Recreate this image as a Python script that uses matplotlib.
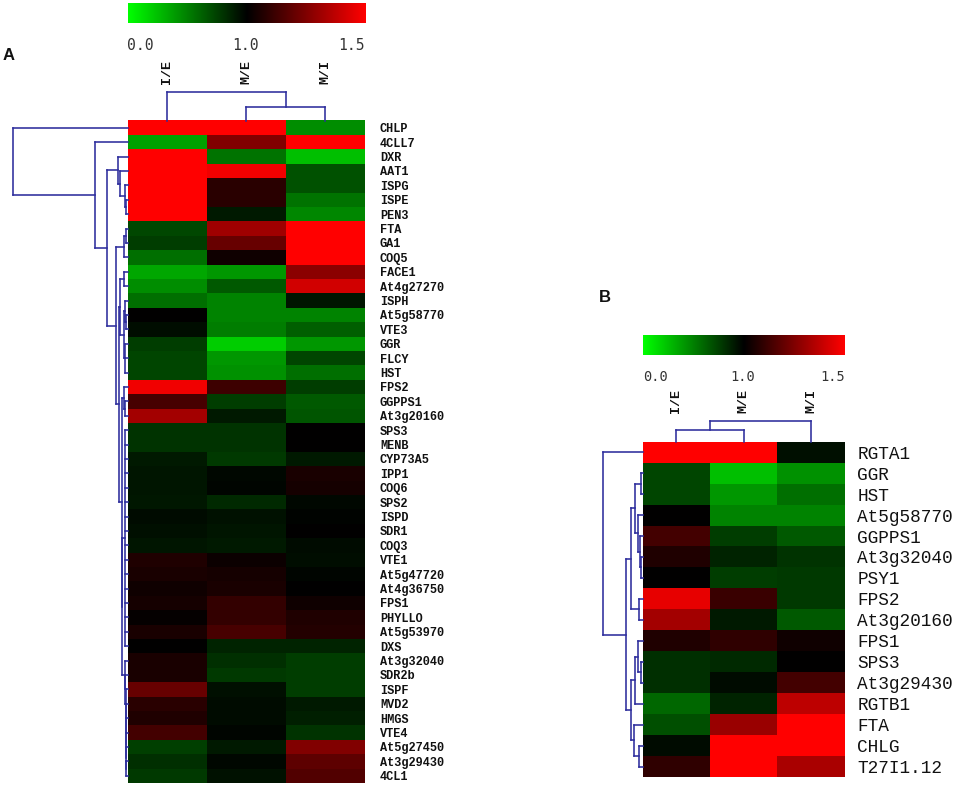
import matplotlib
matplotlib.use("Agg")
import matplotlib.pyplot as plt
import numpy as np
from matplotlib.colors import LinearSegmentedColormap, TwoSlopeNorm

W, H = 957, 801
BLUE = "#2d2d9c"
MONO = "Liberation Mono"

conditions = ["I/E", "M/E", "M/I"]
scale_ticks = ["0.0", "1.0", "1.5"]

genes_a = ["CHLP", "4CLL7", "DXR", "AAT1", "ISPG", "ISPE", "PEN3", "FTA", "GA1", "COQ5",
           "FACE1", "At4g27270", "ISPH", "At5g58770", "VTE3", "GGR", "FLCY", "HST", "FPS2",
           "GGPPS1", "At3g20160", "SPS3", "MENB", "CYP73A5", "IPP1", "COQ6", "SPS2", "ISPD",
           "SDR1", "COQ3", "VTE1", "At5g47720", "At4g36750", "FPS1", "PHYLLO", "At5g53970",
           "DXS", "At3g32040", "SDR2b", "ISPF", "MVD2", "HMGS", "VTE4", "At5g27450",
           "At3g29430", "4CL1"]
ie_a = [1.5, .37, 1.5, 1.5, 1.5, 1.5, 1.5, .72, .76, .57, .35, .45, .57, 1.0, .95, .76, .73, .73,
        1.47, 1.14, 1.32, .8, .8, .9, .92, .92, .91, .96, .94, .92, 1.06, 1.05, 1.03, 1.04, 1.01,
        1.05, 1.0, 1.05, 1.05, 1.2, 1.08, 1.06, 1.13, .75, .82, .78]
me_a = [1.5, 1.25, .55, 1.47, 1.08, 1.08, .9, 1.31, 1.2, 1.03, .41, .65, .49, .49, .51, .2, .41, .43,
        1.12, .76, .9, .8, .8, .78, .97, .98, .84, .93, .92, .9, 1.02, 1.04, 1.05, 1.1, 1.1,
        1.14, .86, .82, .78, .94, .96, .96, .98, .9, .97, .93]
mi_a = [.45, 1.5, .25, .68, .68, .55, .47, 1.5, 1.5, 1.5, 1.27, 1.41, .92, .49, .63, .41, .73, .57,
        .76, .65, .67, 1.0, 1.0, .9, 1.05, 1.04, .97, .99, 1.0, .96, .95, .98, 1.0, 1.03, 1.06,
        1.07, .86, .76, .76, .76, .9, .88, .8, 1.25, 1.18, 1.16]

genes_b = ["RGTA1", "GGR", "HST", "At5g58770", "GGPPS1", "At3g32040", "PSY1", "FPS2", "At3g20160",
           "FPS1", "SPS3", "At3g29430", "RGTB1", "FTA", "CHLG", "T27I1.12"]
ie_b = [1.5, .73, .73, 1.0, 1.13, 1.06, 1.0, 1.45, 1.32, 1.06, .82, .82, .6, .69, .96, 1.09]
me_b = [1.5, .25, .41, .49, .76, .86, .76, 1.11, .9, 1.09, .84, .96, .86, 1.3, 1.5, 1.5]
mi_b = [.94, .43, .57, .49, .65, .8, .78, .78, .65, 1.03, 1.0, 1.13, 1.37, 1.5, 1.5, 1.33]

# Cluster trees: (merge height, child, child, ...); integers are row or column numbers.
rest_a = (5.5,
          (3, 21, 22, 23, 24, 25, 26, 27, 28, 29, 30, 31, 32, 33, 34, 35, 36),
          (2.2, 37, (2.1, 38, (2.0, 39, (1.9, 40, (1.8, 41, (1.7, 42, (1.6, 43, (1.5, 44, 45)))))))))
row_tree_a = (115, 0, (32.5, 1, (20.5,
              (9.5, 2, (7.5, 3, (2.5, 4, (1.5, 5, 6)))),
              (11.5,
               (3.5, (1.5, 7, 8), 9),
               (8.2,
                (7.5, (3.5, 10, 11), (4, (2.5, 12, (1.5, 13, 14)), (2.5, 15, 16, 17))),
                (6, (4, 18, (2.5, 19, 20)), rest_a))))))
col_tree_a = (28.5, 0, (14, 1, 2))

row_tree_b = (40, 0, (17,
              (11.7, (7.7, (1.7, 1, 2), (4.7, 3, (2.7, 4, (1.5, 5, 6)))), (3.7, 7, 8)),
              (11.7, (7.7, (4.7, 9, (1.7, 10, 11)), 12), (8.7, 13, (3.7, 14, 15)))))
col_tree_b = (20.7, (11.7, 0, 1), 2)

cmap = LinearSegmentedColormap.from_list("gbr", ["#00ff00", "#000000", "#ff0000"])
norm = TwoSlopeNorm(vmin=0.0, vcenter=1.0, vmax=1.5)

fig = plt.figure(figsize=(W / 100, H / 100), dpi=100, facecolor="white")


def px_axes(x0, y0, x1, y1):
    ax = fig.add_axes([x0 / W, 1 - y1 / H, (x1 - x0) / W, (y1 - y0) / H])
    ax.patch.set_alpha(0)
    for s in ax.spines.values():
        s.set_visible(False)
    ax.set_xticks([])
    ax.set_yticks([])
    return ax


def draw_tree(ax, node, horizontal):
    """Return (leaf position, height) of a node, drawing its brackets."""
    if isinstance(node, int):
        return node + 0.5, 0.0
    h = node[0]
    kids = [draw_tree(ax, k, horizontal) for k in node[1:]]
    pos = [k[0] for k in kids]

    def seg(p0, h0, p1, h1):
        xy = ([p0, p1], [h0, h1]) if horizontal else ([h0, h1], [p0, p1])
        ax.plot(*xy, color=BLUE, lw=1.15, solid_capstyle="projecting", clip_on=False)

    seg(min(pos), h, max(pos), h)
    for p, kh in kids:
        seg(p, h, p, kh)
    return (min(pos) + max(pos)) / 2, h


def panel(data, genes, row_tree, col_tree, hx0, hy0, hx1, hy1, dx0, dy0,
          bar_y, tick_y, tick_size, row_size, row_weight, row_pad, letter, letter_xy):
    n = len(genes)
    mat = np.array(data).T
    ax = px_axes(hx0, hy0, hx1, hy1)
    ax.pcolormesh(np.arange(4), np.arange(n + 1), mat, cmap=cmap, norm=norm,
                  shading="flat", linewidth=0, rasterized=True)
    ax.set_xlim(0, 3)
    ax.set_ylim(n, 0)
    ax.yaxis.tick_right()
    ax.set_yticks(np.arange(n) + 0.5)
    ax.set_yticklabels(genes, family=MONO, fontsize=row_size, weight=row_weight, color="#111111")
    ax.tick_params(axis="y", length=0, pad=row_pad)

    # row dendrogram
    rd = px_axes(dx0, hy0, hx0, hy1)
    rd.set_xlim(hx0 - dx0, 0)
    rd.set_ylim(n, 0)
    draw_tree(rd, row_tree, False)

    # column dendrogram
    cd = px_axes(hx0, dy0, hx1, hy0)
    cd.set_xlim(0, 3)
    cd.set_ylim(0, hy0 - dy0)
    draw_tree(cd, col_tree, True)
    cd.xaxis.tick_top()
    cd.set_xticks(np.arange(3) + 0.5)
    cd.set_xticklabels(conditions, rotation=90, family=MONO, fontsize=9.6, weight="bold",
                       color="#111111", va="bottom", ha="center")
    cd.tick_params(axis="x", length=0, pad=3)

    # colour scale
    cb = px_axes(hx0, bar_y[0], hx1, bar_y[1])
    cb.imshow(np.linspace(0, 1.5, 256)[None, :], aspect="auto", cmap=cmap,
              norm=TwoSlopeNorm(vmin=0, vcenter=0.75, vmax=1.5), extent=(0, 1, 0, 1))
    for t, xf, ha in zip(scale_ticks, [0.0, 0.495, 1.0], ["left", "center", "right"]):
        cb.text(xf, tick_y, t, transform=cb.get_xaxis_transform(), family="DejaVu Sans Mono",
                fontsize=tick_size, color="#333333", ha=ha, va="center")
    cb.set_xlim(0, 1)
    cb.set_ylim(0, 1)

    fig.text(letter_xy[0] / W, 1 - letter_xy[1] / H, letter, family="Liberation Sans",
             weight="bold", fontsize=12, color="#111111", ha="left", va="center")


panel([ie_a, me_a, mi_a], genes_a, row_tree_a, col_tree_a,
      127.5, 120.5, 365, 783, 0, 88,
      (3.3, 23.3), -1.13, 10.6, 8.6, "bold", 10.8, "A", (3, 56))
panel([ie_b, me_b, mi_b], genes_b, row_tree_b, col_tree_b,
      642.7, 441.7, 844.7, 777, 590, 417,
      (335, 355), -1.1, 9.8, 12.8, "normal", 9, "B", (599, 298))

fig.savefig("out.png", dpi=100)
